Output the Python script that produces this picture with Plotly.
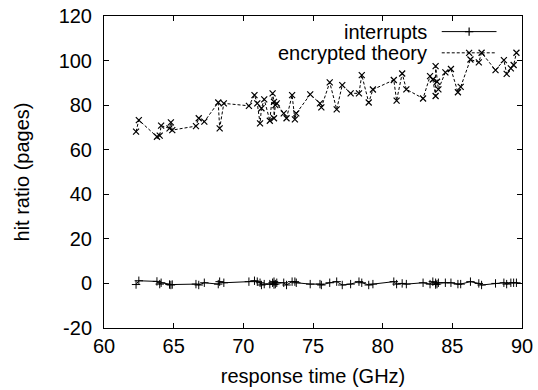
import plotly.graph_objects as go

# response time (GHz) shared by both series
x_vals = [62.3, 62.5, 63.8, 64.0, 64.1, 64.7, 64.8, 64.9, 66.6, 66.8, 67.2,
          68.2, 68.3, 68.6, 70.4, 70.8, 71.0, 71.2, 71.3, 71.5, 71.9, 72.1,
          72.2, 72.2, 72.3, 72.4, 72.9, 73.1, 73.5, 73.7, 73.8, 74.8, 75.5,
          75.6, 76.2, 76.7, 77.1, 77.7, 78.3, 78.5, 79.0, 79.3, 80.8, 81.0,
          81.4, 81.7, 82.9, 83.4, 83.6, 83.8, 83.8, 83.9, 84.0, 84.5, 84.9,
          85.4, 85.6, 86.3, 86.9, 87.1, 88.1, 88.7, 88.9, 89.2, 89.4, 89.6]

encrypted_theory = [68.1, 73.3, 65.8, 66.3, 70.8, 69.6, 72.3, 68.8, 70.6, 74.1, 72.6,
                    81.2, 69.6, 80.8, 79.7, 84.5, 80.8, 71.8, 78.6, 82.6, 73.0, 85.3,
                    81.5, 74.1, 80.0, 80.8, 76.3, 74.1, 84.5, 73.6, 76.3, 84.8, 80.8,
                    79.0, 90.2, 78.1, 89.0, 85.3, 85.3, 93.5, 81.2, 87.0, 91.3, 82.0,
                    94.2, 87.1, 83.0, 93.0, 91.5, 84.1, 97.5, 90.5, 87.1, 94.7, 96.2,
                    85.8, 88.2, 100.5, 99.2, 103.5, 95.7, 100.2, 94.0, 96.5, 98.0, 103.5]

interrupts = [-0.5, 1.2, 0.9, -0.3, 0.3, -0.5, -0.7, -0.5, -0.3, -0.7, 0.3,
              -0.3, 0.8, 0.3, 0.8, 1.2, 0.8, 0.3, -0.7, -0.3, -0.3, 0.3,
              -0.5, 0.8, -0.3, 0.3, 0.3, -0.7, 0.8, 0.8, 0.3, -0.3, -0.3,
              -0.7, 0.3, 0.8, -0.7, -0.3, 0.8, 0.3, -0.7, -0.3, 0.8, -0.3,
              0.0, -0.3, 0.3, -0.3, 0.8, -0.5, 0.3, -0.3, 0.3, 0.3, 0.3,
              -0.3, -0.3, 0.8, 0.0, -0.7, 0.0, 0.3, -0.3, 0.3, 0.3, 0.3]

series_names = ["interrupts", "encrypted theory"]
x_ticks = [60, 65, 70, 75, 80, 85, 90]
y_ticks = [-20, 0, 20, 40, 60, 80, 100, 120]

FONT = "Liberation Sans, Arial, sans-serif"
FS = 20

fig = go.Figure()
fig.add_trace(go.Scatter(
    x=x_vals, y=interrupts, mode="lines+markers", name=series_names[0],
    line=dict(color="black", width=1),
    marker=dict(symbol="cross-thin", size=6, color="black",
                line=dict(color="black", width=1)),
    showlegend=False))
fig.add_trace(go.Scatter(
    x=x_vals, y=encrypted_theory, mode="lines+markers", name=series_names[1],
    line=dict(color="black", width=1, dash="3px,2px"),
    marker=dict(symbol="x-thin", size=6, color="black",
                line=dict(color="black", width=1.2)),
    showlegend=False))

# manual gnuplot-style key (text right, sample on the right)
key_rows = [0.950, 0.882]
key_x0, key_x1, key_text_x = 0.808, 0.939, 0.778
styles = [dict(dash="solid", sym="cross-thin", size=6),
          dict(dash="3px,2px", sym="x-thin", size=6)]
for name, yk, st in zip(series_names, key_rows, styles):
    fig.add_shape(type="line", xref="paper", yref="paper",
                  x0=key_x0, x1=key_x1, y0=yk, y1=yk,
                  line=dict(color="black", width=1, dash=st["dash"]))
    fig.add_trace(go.Scatter(
        x=[(key_x0 + key_x1) / 2], y=[yk], xaxis="x2", yaxis="y2",
        mode="markers", showlegend=False, hoverinfo="skip",
        marker=dict(symbol=st["sym"], size=st["size"], color="black",
                    line=dict(color="black", width=1.2))))
    fig.add_annotation(x=key_text_x, y=yk, xref="paper", yref="paper",
                       text=name, showarrow=False, xanchor="right",
                       yanchor="middle", font=dict(family=FONT, size=FS, color="black"))

axis_common = dict(showgrid=False, zeroline=False, showline=True,
                   linecolor="black", linewidth=1, mirror="ticks",
                   ticks="inside", ticklen=5, tickcolor="black", tickwidth=1,
                   automargin=False,
                   tickfont=dict(family=FONT, size=FS, color="black"))

fig.update_layout(
    width=538, height=390,
    margin=dict(l=104, r=16, t=16, b=62, autoexpand=False),
    paper_bgcolor="white", plot_bgcolor="white",
    font=dict(family=FONT, size=FS, color="black"),
    xaxis=dict(range=[60, 90], tickvals=x_ticks,
               ticktext=[str(v) for v in x_ticks],
               title=dict(text="response time (GHz)", standoff=12,
                          font=dict(family=FONT, size=FS)),
               **axis_common),
    yaxis=dict(range=[-20, 120], tickvals=y_ticks,
               ticktext=[str(v) for v in y_ticks],
               ticklabelstandoff=7,
               title=dict(text="hit ratio (pages)", standoff=23,
                          font=dict(family=FONT, size=FS)),
               **axis_common),
    xaxis2=dict(range=[0, 1], overlaying="x", visible=False, fixedrange=True),
    yaxis2=dict(range=[0, 1], overlaying="y", visible=False, fixedrange=True),
)

fig.write_html("out.html")
